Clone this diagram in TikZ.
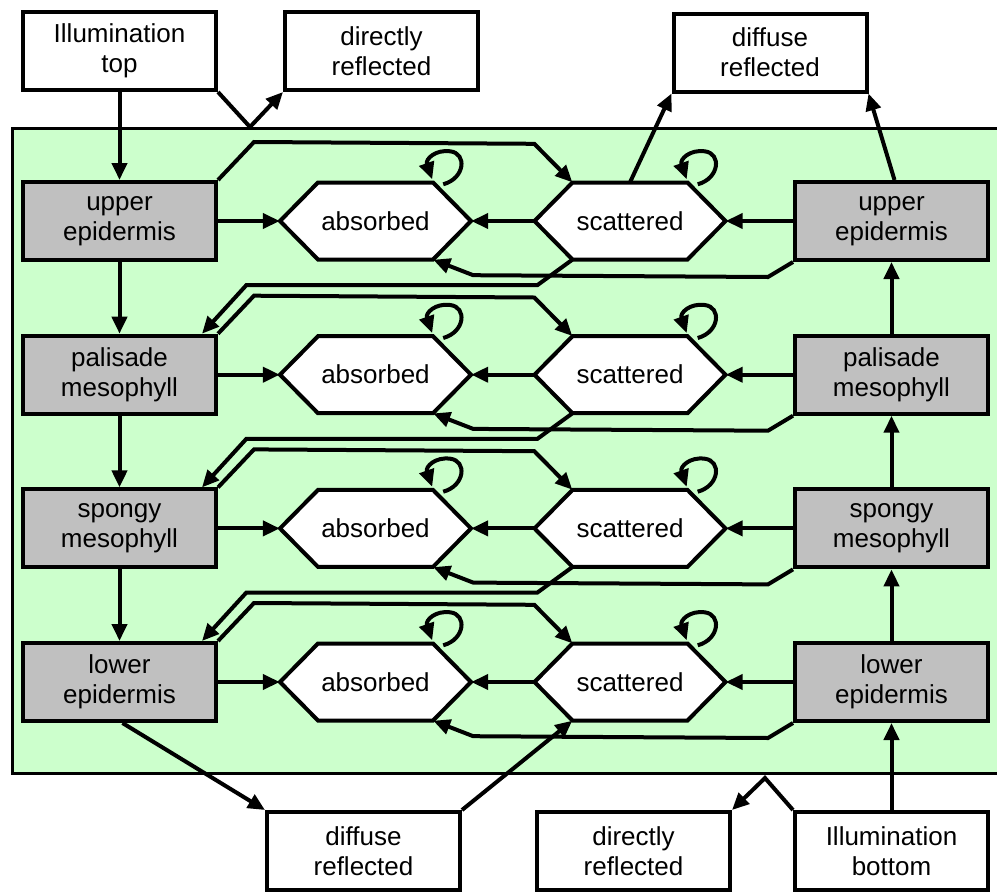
\documentclass[tikz,border=0pt]{standalone}
\usepackage{fontspec}
\setmainfont{Liberation Sans}
\usetikzlibrary{arrows.meta,calc}
\definecolor{leafgreen}{RGB}{204,255,204}
\definecolor{boxgray}{RGB}{192,192,192}
\begin{document}
\begin{tikzpicture}[x=1pt,y=-1pt,
  txt/.style={font={\fontsize{26}{30}\selectfont},align=center,text=black},
  outbox/.style={txt,draw,line width=4pt,fill=white,minimum width=193pt,minimum height=78pt,inner sep=0pt},
  layerbox/.style={outbox,fill=boxgray},
  hexbox/.style={txt,minimum width=191pt,minimum height=77pt,inner sep=0pt},
  hexline/.style={draw,fill=white,line width=4pt,line join=miter},
  conn/.style={line width=4pt,line join=miter},
  arr/.style={conn,-{Triangle[length=17pt,width=15pt]}},
]
\useasboundingbox (0,0) rectangle (997,892);
% leaf area
\draw[fill=leafgreen,line width=3pt] (12,128) rectangle (1010,773);

% hexagon centres
\foreach \r/\y in {1/221,2/374.7,3/528.4,4/682} {
  \coordinate (ca\r) at (375.5,\y);
  \coordinate (cs\r) at (630,\y);
}
\foreach \c in {ca1,ca2,ca3,ca4,cs1,cs2,cs3,cs4} {
  \path[hexline] ($(\c)+(-95.5,0)$) -- ++(38,-38.5) -- ++(115,0) -- ++(38,38.5)
     -- ++(-38,38.5) -- ++(-115,0) -- cycle;
}
\foreach \r in {1,2,3,4} {
  \node[hexbox] (A\r) at (ca\r) {absorbed};
  \node[hexbox] (S\r) at (cs\r) {scattered};
}

% layer boxes
\node[layerbox] (L1) at (119.5,221) {upper\\epidermis};
\node[layerbox] (L2) at (119.5,374.7) {palisade\\mesophyll};
\node[layerbox] (L3) at (119.5,528.4) {spongy\\mesophyll};
\node[layerbox] (L4) at (119.5,682) {lower\\epidermis};
\node[layerbox] (R1) at (891.5,221) {upper\\epidermis};
\node[layerbox] (R2) at (891.5,374.7) {palisade\\mesophyll};
\node[layerbox] (R3) at (891.5,528.4) {spongy\\mesophyll};
\node[layerbox] (R4) at (891.5,682) {lower\\epidermis};

% outer boxes
\node[outbox] (IT) at (119.5,51) {Illumination\\top};
\node[outbox] (DRT) at (381.5,51) {directly\\reflected};
\node[outbox] (DFT) at (770,52.5) {diffuse\\reflected};
\node[outbox] (DFB) at (363.5,851) {diffuse\\reflected};
\node[outbox] (DRB) at (633.5,851) {directly\\reflected};
\node[outbox] (IB) at (891.5,851) {Illumination\\bottom};

% connectors within each row
\foreach \r in {1,2,3,4} {
  \draw[arr] (L\r.east) -- (A\r.west);
  \draw[arr] (S\r.west) -- (A\r.east);
  \draw[arr] (R\r.west) -- (S\r.east);
  \draw[arr] (L\r.north east) -- ++(36,-38) -- ($(S\r.north west)+(0,-38.5)$)
     -- ([xshift=38]S\r.north west);
  \draw[arr] (R\r.south west) -- ++(-25,15) -- ($(A\r.south east)+(2,15.5)$)
     -- ([xshift=-38]A\r.south east);
  \foreach \h in {A,S} {
    \begin{scope}[shift={([xshift=-38]\h\r.north east)}]
      \draw[arr] (10,2) .. controls (32,-4) and (34,-29) .. (17,-31)
        .. controls (2,-33) and (-8,-23) .. (-1,-3);
    \end{scope}
  }
}
% connectors between rows
\foreach \r/\n in {1/2,2/3,3/4} {
  \draw[arr] (L\r.south) -- (L\n.north);
  \draw[arr] (R\n.north) -- (R\r.south);
  \draw[arr] ([xshift=38]S\r.south west) -- ++(-35,25.5) -- ++(-291,0)
     -- ([xshift=-16]L\n.north east);
}

% top
\coordinate (vtop) at (250,127);
\draw[arr] (IT.south) -- (L1.north);
\draw[arr] (IT.south east) -- (vtop) -- (DRT.south west);
\draw[arr] (S1.north) -- (DFT.south west);
\draw[arr] ([xshift=3]R1.north) -- (DFT.south east);
% bottom
\coordinate (vbot) at (765,778);
\draw[arr] ([xshift=3]L4.south) -- (DFB.north west);
\draw[arr] (DFB.north east) -- ([xshift=38]S4.south west);
\draw[arr] (IB.north west) -- (vbot) -- (DRB.north east);
\draw[arr] (IB.north) -- (R4.south);
\end{tikzpicture}
\end{document}
